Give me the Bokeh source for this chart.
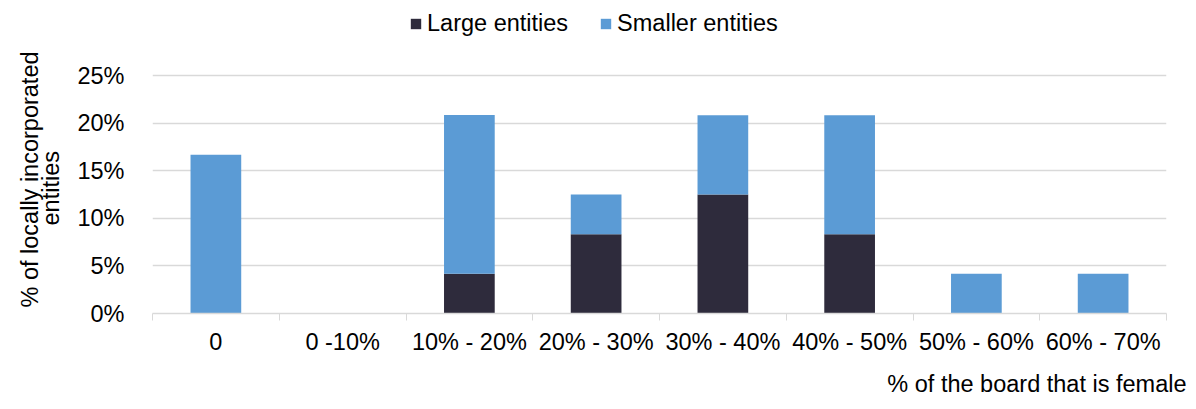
from bokeh.plotting import figure
from bokeh.models import (ColumnDataSource, FixedTicker, Legend, LegendItem, Title,
                          Range1d, PrintfTickFormatter)
from bokeh.embed import file_html
from bokeh.resources import INLINE

# Share of locally incorporated entities by female board share (%)
categories = ["0", "0 -10%", "10% - 20%", "20% - 30%", "30% - 40%",
              "40% - 50%", "50% - 60%", "60% - 70%"]
large = [0, 0, 4.17, 8.33, 12.5, 8.33, 0, 0]
smaller = [16.67, 0, 16.67, 4.17, 8.33, 12.5, 4.17, 4.17]
series_names = ["Large entities", "Smaller entities"]
y_ticks = [0, 5, 10, 15, 20, 25]

FONT = "Liberation Sans"
FS = "23.5px"
DARK = "#2E2B3C"
BLUE = "#5B9BD5"
GRID = "#D9D9D9"
TEXT = "#000000"
W, H = 1196, 409

# the frame runs to the top of the canvas so the legend can sit above the 25% line
FRAME_H = 313
Y_TOP = 25 * FRAME_H / 238

positions = [i + 0.5 for i in range(len(categories))]
src = ColumnDataSource(dict(x=positions, large=large, smaller=smaller))

p = figure(width=W, height=H, output_backend="svg", toolbar_location=None,
           x_range=Range1d(0, len(categories)), y_range=Range1d(0, Y_TOP),
           min_border_left=152, min_border_right=30, min_border_bottom=H - FRAME_H,
           min_border_top=0)
p.outline_line_color = None
p.background_fill_color = "white"
p.border_fill_color = "white"

bars = p.vbar_stack(["large", "smaller"], x="x", width=0.4, color=[DARK, BLUE],
                    line_color=None, source=src)

# x axis: labels at category centres, tick marks at category boundaries
xa = p.xaxis[0]
xa.ticker = FixedTicker(ticks=positions, minor_ticks=list(range(len(categories) + 1)))
xa.major_label_overrides = {pos: cat for pos, cat in zip(positions, categories)}
xa.major_tick_line_color = None
xa.major_tick_out = 0
xa.major_tick_in = 0
xa.minor_tick_line_color = GRID
xa.minor_tick_out = 7
xa.minor_tick_in = 0
xa.axis_line_color = GRID
xa.axis_line_width = 1.5
xa.major_label_standoff = 8
xa.major_label_text_font = FONT
xa.major_label_text_font_size = FS
xa.major_label_text_color = TEXT

# y axis
ya = p.yaxis[0]
ya.ticker = FixedTicker(ticks=y_ticks)
ya.formatter = PrintfTickFormatter(format="%d%%")
ya.axis_line_color = None
ya.major_tick_line_color = None
ya.minor_tick_line_color = None
ya.major_label_standoff = 22
ya.major_label_text_font = FONT
ya.major_label_text_font_size = FS
ya.major_label_text_color = TEXT

p.xgrid.visible = False
p.ygrid.ticker = FixedTicker(ticks=y_ticks)
p.ygrid.grid_line_color = GRID
p.ygrid.grid_line_width = 1.5

title_style = dict(text_font=FONT, text_font_size=FS, text_font_style="normal",
                   text_color=TEXT)

# y axis title on two lines, inner line first
p.add_layout(Title(text="entities", align="left", offset=88, standoff=22,
                   **title_style), "left")
p.add_layout(Title(text="% of locally incorporated", align="left", offset=6,
                   standoff=-36, **title_style), "left")

# x axis title, right-aligned a little past the frame edge
p.add_layout(Title(text="% of the board that is female", align="right", offset=-20,
                   standoff=23, **title_style), "below")

legend = Legend(items=[LegendItem(label=series_names[0], renderers=[bars[0]]),
                       LegendItem(label=series_names[1], renderers=[bars[1]])],
                orientation="horizontal", location=(257, 276),
                label_text_font=FONT, label_text_font_size=FS, label_text_color=TEXT,
                glyph_width=13, glyph_height=13, label_standoff=5, spacing=31,
                padding=0, margin=0, border_line_color=None, background_fill_alpha=0)
p.add_layout(legend, "center")

open("out.html", "w").write(file_html(p, INLINE))
